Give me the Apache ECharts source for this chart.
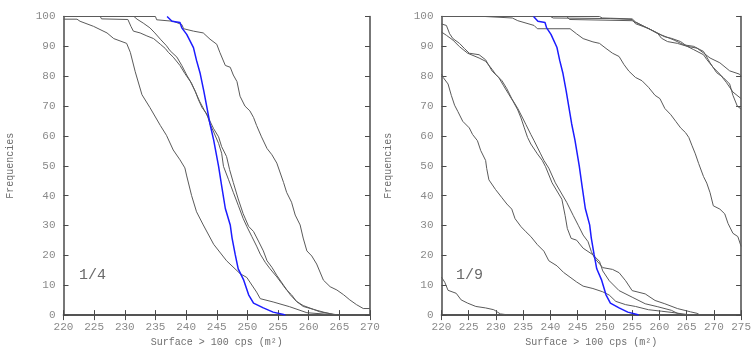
<!DOCTYPE html>
<html><head><meta charset="utf-8">
<script src="https://cdn.jsdelivr.net/npm/echarts@6/dist/echarts.min.js"></script>
<style>html,body{margin:0;padding:0;background:#fff}#c{width:754px;height:352px}</style>
</head><body><div id="c"></div>
<script>
// ---- data (x = surface, y = frequency %) ----
const xTicksLeft = [220,225,230,235,240,245,250,255,260,265,270];
const xTicksRight = [220,225,230,235,240,245,250,255,260,265,270,275];
const panelLabels = ["1/4","1/9"];
const xName = "Surface > 100 cps (m\u00B2)";
const yName = "Frequencies";

const blueCurve = [[236.9,100],[237.7,98.4],[239.0,98.0],[239.3,96.2],[240.1,94.0],[241.2,89.6],[241.7,85.3],[242.3,80.9],[242.9,74.9],[243.4,69.5],[243.9,64.0],[244.5,58.6],[245.3,49.8],[245.8,43.3],[246.4,35.7],[247.2,30.2],[247.5,25.8],[248.0,20.4],[248.5,15.5],[249.4,11.7],[250.2,6.8],[251.0,4.0],[252.6,2.4],[254.2,1.0],[255.9,0.2],[256.2,0]];

const leftA = [[220,99.1],[222.2,99.1],[222.7,98.4],[224.9,96.7],[227.1,94.5],[228.2,92.6],[230.3,91],[230.9,88],[231.7,81.5],[232.8,73.8],[234.1,69.5],[235.8,63.5],[236.8,60.2],[237.9,55.3],[239,52],[239.8,49.3],[240.1,46.6],[240.9,40],[241.7,34.6],[242.8,30.2],[244.5,23.7],[246.6,18.2],[248.8,13.9],[249.9,12.6],[251.5,7.7],[252.1,5.5],[254.2,4.4],[256.9,2.8],[259.7,0.8],[262.9,0.3],[263.5,0]];
const leftC = [[220,100],[226,100],[226.2,99.2],[230.5,99],[231,96.7],[231.4,95.1],[232.5,94.5],[233.6,93.5],[234.7,92.6],[235.8,90.7],[236.6,89.3],[237.1,88],[237.9,86.4],[239,83.6],[239.8,80.9],[240.7,78.2],[241.5,74.9],[242,72.2],[242.6,69.5],[243.4,67.3],[243.9,64],[244.5,61.3],[245.3,57.5],[245.8,54.2],[246.1,49.8],[246.9,45.5],[247.7,41.1],[248.5,36.8],[249.3,32.4],[249.9,29.7],[250.7,26.4],[251.5,23.1],[252.1,20.4],[252.9,17.7],[253.7,15.5],[254.8,12.8],[255.6,10.6],[256.4,8.4],[257.2,6.8],[258,4.6],[259.1,2.9],[260.8,1.9],[262.4,1],[264,0.2],[264.3,0]];
const leftD = [[220,100],[231.5,100],[232,99.1],[233,97.8],[234.1,96.2],[234.9,94.5],[235.8,92.4],[236.8,90.2],[237.4,88.5],[238.5,86.4],[239.3,83.6],[240.1,80.4],[240.9,77.6],[241.5,74.9],[242.2,71.6],[242.9,68.9],[243.6,66.2],[244.5,62.4],[245.3,59.7],[245.8,56.4],[246.6,53.1],[247.1,48.7],[247.7,44.4],[248.5,38.9],[249.3,34],[250.2,29.7],[251,28],[251.8,24.8],[252.6,21.5],[253.2,18.2],[254,16],[254.8,13.3],[255.9,10],[257,6.8],[258,4.6],[259.1,3.2],[260.8,1.9],[261.8,1.1],[263.5,0.5],[264.6,0.1]];
const leftF = [[220,100],[235,100],[235.2,98.9],[237.9,98.4],[239.3,97.3],[239.6,95.9],[241.2,95.1],[242.8,94.5],[243.9,92.4],[245,90.7],[245.5,88],[246.4,83.6],[247.2,83],[247.7,80.4],[248.3,78.2],[248.8,73.3],[249.6,70],[250.4,68.4],[251,66.2],[251.5,63.5],[252.3,59.7],[253.2,55.8],[254,53.7],[254.8,50.9],[255.9,44.4],[256.4,41.1],[257.2,37.8],[257.8,33.5],[258.6,30.2],[259.1,25.8],[259.7,21.5],[260.5,19.8],[261.3,17.1],[262.4,11.7],[263.5,9.5],[264.6,8.4],[265.7,6.8],[266.7,5.1],[267.8,3.5],[268.9,2.2],[270,2.2]];

const rightR1 = [[220,12.7],[220.6,11],[221.2,8.3],[222.7,7.3],[223.6,5.1],[224.8,4],[226.3,2.9],[228.1,2.4],[229.6,1.8],[230.2,1.1],[230.8,0.4],[231.7,0.2],[232,0]];
const rightR2 = [[220,80.7],[220.3,79.6],[221.2,77.4],[221.8,73.6],[222.4,70.3],[223,68.2],[223.9,64.9],[225.1,62.7],[225.7,60.5],[226.6,58.4],[227.2,55.1],[228.1,51.8],[228.3,49.1],[228.7,45.3],[229.9,42.1],[231.1,39.3],[232,37.2],[232.9,35.5],[233.5,32.3],[234.6,29.6],[235.5,27.9],[236.4,26.3],[237.6,23.6],[238.8,21.4],[239.7,18.2],[241.2,16.5],[242.4,14.3],[243.6,12.7],[244.8,11.1],[246,9.7],[247.8,8.9],[249.6,7.8],[250.8,6.7],[252,4.6],[253.8,3.5],[255.6,2.9],[258,1.8],[260.4,1.3],[262.7,0.8],[265.1,0.2],[266.5,0]];
const rightR3 = [[220,97.5],[220.9,97],[221.5,94.2],[222.1,92.6],[223.3,91],[224.2,89.3],[225.1,87.7],[226.9,87.2],[228.1,85.5],[229.3,81.7],[230.5,79.6],[231.4,76.8],[232.3,74.1],[233.2,71.4],[234,68.7],[234.6,66],[235.2,62.7],[235.8,59.5],[236.4,57.3],[237.6,54],[238.5,51.8],[239.1,49.7],[240.3,44.3],[242.1,38.8],[242.7,33.3],[243.1,29],[243.8,25.7],[244.8,25.1],[246,22.4],[247.8,20.2],[249,18],[249.6,14.8],[250.8,11.5],[252.6,8.2],[255,6],[257.4,3.8],[259.7,2.8],[262.2,1.6],[263.3,0.6],[264,0]];
const rightR4 = [[220,94.8],[220.9,93.7],[222.1,92.1],[223.3,89.9],[224.8,87.7],[226.9,86.1],[228.1,85],[229.3,82.3],[229.9,80.7],[231.1,78.5],[232,75.8],[232.9,72.5],[234,69.2],[234.9,66],[235.5,63.8],[236.4,60.5],[237,58.4],[238.2,54],[238.8,51.8],[239.7,49.2],[240.9,44.3],[243,37.7],[244.2,33.3],[245.1,30.1],[246,26.8],[246.9,24.6],[247.5,21.3],[248.1,19.1],[249.6,15.9],[251.4,15.3],[252.6,14.2],[253.8,11.5],[255,8.2],[257.4,7.1],[259.2,4.9],[261,3.8],[263.3,2.2],[265.7,1.1],[266.9,0.6],[267.5,0]];
const rightR5 = [[220,100],[228,100],[233,99.5],[234,98.6],[237,97],[237.6,95.9],[243.6,95.9],[244.8,94.2],[246,92.6],[247.8,91.5],[249,91],[250.2,89.3],[251.4,87.7],[252.6,86.6],[253.5,83.9],[254.4,81.7],[255.6,79.6],[256.8,78.5],[258,76.3],[259.2,73.6],[260.1,72.5],[261,69.2],[262.1,67.1],[263,64.9],[263.9,62.7],[264.8,61.1],[265.4,59.5],[266,56.7],[266.6,54],[267.2,50.8],[268.1,46.4],[268.7,44.2],[269.3,41],[269.9,36.6],[271.1,35.5],[272,33.9],[272.6,30.7],[273.5,27.4],[274.4,26.3],[275,23]];
const rightR6 = [[220,100],[249,100],[249.5,99.5],[255,99.2],[255.6,98.2],[257.4,96.5],[258.6,95.4],[259.7,94.3],[261,93.2],[262.2,92.7],[263.9,91.6],[265.1,90],[266.9,89.4],[268.1,87.8],[269.3,86.1],[271.1,84.5],[272.9,81.8],[274.7,80.7],[275,80]];
const rightR7 = [[220,100],[240,100],[240.5,99.5],[251,99.3],[255,99],[255.6,97.6],[258,96],[259.7,94.3],[260.4,92.7],[261.5,91.6],[263.3,91],[265.1,90],[266.3,88.9],[268.1,87.2],[268.7,85.6],[269.9,82.9],[271.1,80.7],[272.3,77.9],[273.5,74.7],[275,72.5]];
const rightR8 = [[220,100],[243,100],[243.5,99],[255,98.6],[256.8,97],[259.2,94.9],[260.4,93.8],[262.7,92.1],[264.5,90.5],[266.3,90],[268.1,88.3],[269.3,84.5],[270.5,81.2],[271.7,79.6],[272.9,77.4],[273.5,73.6],[274.3,70],[275,69]];

const leftGray = [leftA, leftC, leftD, leftF];
const rightGray = [rightR1, rightR2, rightR3, rightR4, rightR5, rightR6, rightR7, rightR8];

// ---- chart ----
const FONT = '"Liberation Mono", "DejaVu Sans Mono", monospace';
const FRAME = '#4a4a4a';
const grids = [
  {left: 63.5, top: 16.5, width: 306.5, height: 305},
  {left: 441.5, top: 16.5, width: 306.8, height: 305}
];
const xRanges = [[xTicksLeft[0], xTicksLeft[xTicksLeft.length-1]], [xTicksRight[0], xTicksRight[xTicksRight.length-1]]];

const xAxis = [], yAxis = [];
for (let g = 0; g < 2; g++) {
  xAxis.push({type:'value', gridIndex:g, position:'bottom', min:xRanges[g][0], max:xRanges[g][1], interval:5,
    name:xName, nameLocation:'middle', nameGap:21,
    nameTextStyle:{fontFamily:FONT, fontSize:10, color:'#6e6e6e'},
    axisLine:{lineStyle:{color:FRAME, width:1.5}},
    axisTick:{inside:true, length:5, lineStyle:{color:FRAME, width:1}},
    axisLabel:{fontFamily:FONT, fontSize:11, color:'#8a8a8a', margin:6, showMaxLabel:true},
    splitLine:{show:false}});
  xAxis.push({type:'value', gridIndex:g, position:'top', min:xRanges[g][0], max:xRanges[g][1], interval:5,
    axisLine:{lineStyle:{color:FRAME, width:1.5}},
    axisTick:{inside:true, length:5, lineStyle:{color:FRAME, width:1}},
    axisLabel:{show:false}, splitLine:{show:false}});
  yAxis.push({type:'value', gridIndex:g, position:'left', min:0, max:100, interval:10,
    name:yName, nameLocation:'middle', nameGap:48, nameRotate:90,
    nameTextStyle:{fontFamily:FONT, fontSize:10, color:'#6e6e6e'},
    axisLine:{show:true, lineStyle:{color:FRAME, width:1.5}},
    axisTick:{show:true, inside:true, length:5, lineStyle:{color:FRAME, width:1}},
    axisLabel:{fontFamily:FONT, fontSize:11, color:'#8a8a8a', margin:8},
    splitLine:{show:false}});
  yAxis.push({type:'value', gridIndex:g, position:'right', min:0, max:100, interval:10,
    axisLine:{show:true, lineStyle:{color:FRAME, width:1.5}},
    axisTick:{show:true, inside:true, length:5, lineStyle:{color:FRAME, width:1}},
    axisLabel:{show:false}, splitLine:{show:false}});
}

const series = [];
function addLine(data, g, color, width) {
  series.push({type:'line', xAxisIndex:g*2, yAxisIndex:g*2, data:data, showSymbol:false, symbol:'none',
    lineStyle:{color:color, width:width}, silent:true, animation:false, clip:true, z:2});
}
leftGray.forEach(d => addLine(d, 0, '#5a5a5a', 1));
rightGray.forEach(d => addLine(d, 1, '#5a5a5a', 1));
addLine(blueCurve, 0, '#1c1cff', 1.5);
addLine(blueCurve, 1, '#1c1cff', 1.5);

const chart = echarts.init(document.getElementById('c'), null, {renderer:'canvas'});
chart.setOption({
  animation:false,
  backgroundColor:'#fff',
  grid: grids,
  xAxis: xAxis,
  yAxis: yAxis,
  series: series,
  graphic: [
    {type:'text', left:79, top:268, style:{text:panelLabels[0], font:'15px ' + FONT, fill:'#6a6a6a'}},
    {type:'text', left:456, top:268, style:{text:panelLabels[1], font:'15px ' + FONT, fill:'#6a6a6a'}}
  ]
});
</script></body></html>
